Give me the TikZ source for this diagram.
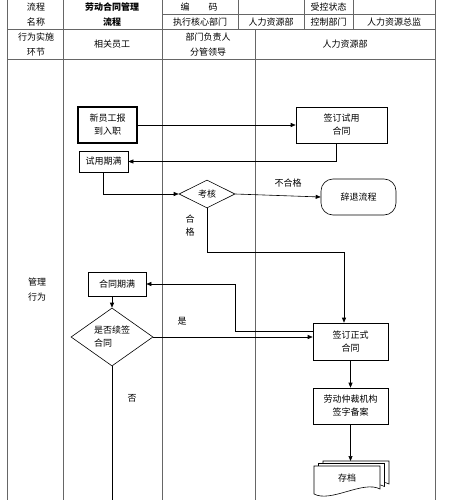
\documentclass[tikz,border=0pt]{standalone}
\usepackage{fontspec}
\setmainfont{Noto Sans CJK SC}
\usetikzlibrary{shapes.geometric, arrows.meta}

\newcommand\cnfont{\fontsize{9pt}{13pt}\selectfont}
\newcommand\headfont{\fontsize{9pt}{15pt}\selectfont}

\begin{document}
\begin{tikzpicture}[x=1pt, y=-1pt,
	every node/.style={font=\cnfont, inner sep=0pt},
	tabline/.style={draw=black!60, line width=0.8pt},
	head/.style={font=\headfont, align=center},
	box/.style={draw, line width=0.6pt, align=center},
	decision/.style={draw, diamond, line width=0.6pt, align=center},
	flow/.style={line width=0.6pt, -{Triangle[length=5pt, width=4pt]}},
	doc/.style={draw, fill=white, line width=0.6pt}]
\useasboundingbox (0,0) rectangle (449,500);

% table
\draw[tabline] (162,14.5) -- (435,14.5);
\draw[tabline] (7,29.5) -- (435,29.5);
\draw[tabline] (7,59.5) -- (435,59.5);
\draw[tabline] (7,0) -- (7,500);
\draw[tabline] (63,0) -- (63,500);
\draw[tabline] (162,0) -- (162,500);
\draw[tabline] (435,0) -- (435,500);
\draw[tabline] (238,0) -- (238,29.5);
\draw[tabline] (304,0) -- (304,29.5);
\draw[tabline] (353,0) -- (353,29.5);
\draw[tabline] (255,29.5) -- (255,500);

% header
\node[head] (procname) at (36,14.5) {流程\\名称};
\node[head, font=\headfont\bfseries] (proctitle) at (112,14.5) {劳动合同管理\\流程};
\node (code) at (199,7.5) {编\hspace{19pt}码};
\node (ctrlstate) at (328.5,7.5) {受控状态};
\node (execdept) at (200,22) {执行核心部门};
\node (execname) at (271,22) {人力资源部};
\node (ctrldept) at (328.5,22) {控制部门};
\node (ctrlname) at (394,22) {人力资源总监};
\node[head] (stage) at (36,44.5) {行为实施\\环节};
\node (staff) at (112,44.5) {相关员工};
\node[head] (leader) at (208,44.5) {部门负责人\\分管领导};
\node (hrdept) at (345,44.5) {人力资源部};
\node[head] (mgmt) at (37,289.5) {管理\\行为};

% flow
\node[box, line width=1.6pt, minimum width=59pt, minimum height=36pt] (newhire) at (107.5,125) {新员工报\\到入职};
\node[box, minimum width=91pt, minimum height=36pt] (trialsign) at (341.5,125) {签订试用\\合同};
\node[box, minimum width=49pt, minimum height=21pt] (trialend) at (103.5,161.5) {试用期满};
\node[decision, aspect=2, minimum width=56pt, minimum height=28pt] (assess) at (207,194) {考核};
\node[box, rounded corners=12pt, minimum width=75pt, minimum height=36pt] (dismiss) at (358.5,197) {辞退流程};
\node[box, minimum width=58pt, minimum height=24pt] (contractend) at (117,284) {合同期满};
\node[decision, aspect=1.4, align=left, minimum width=82pt, minimum height=58pt] (renew) at (112,337) {是否续签\\合同};
\node[box, minimum width=75pt, minimum height=37pt] (formal) at (350.5,341.5) {签订正式\\合同};
\node[box, minimum width=75pt, minimum height=36pt] (arbitration) at (350.5,406) {劳动仲裁机构\\签字备案};

\foreach \dx/\dy in {9/-5, 4.5/-2.5, 0/0}
	\draw[doc, shift={(\dx,\dy)}] (314,466) -- (380,466) -- (380,489)
		.. controls (363,480) and (331,503) .. (314,494) -- cycle;
\node (archive) at (347,478) {存档};
\coordinate (archtop) at (350.5,461);

\node (fail) at (288,183) {不合格};
\node[align=center] (pass) at (190,226) {合\\格};
\node (yes) at (182,321) {是};
\node (no) at (132,398) {否};

\draw[flow] (newhire.east) -- (trialsign.west);
\draw[flow] ([xshift=-5.5pt]trialsign.south) |- (trialend.east);
\draw[flow] (trialend.south) |- (assess.west);
\draw[flow] (assess.east) -- (dismiss.west);
\draw[flow] (assess.south) -- (assess.south |- 0,252) -| ([xshift=-6.5pt]formal.north);
\draw[flow] ([yshift=10pt]formal.west) -- ++(-77,0) |- (contractend.east);
\draw[flow] (renew.north |- contractend.south) -- (renew.north);
\draw[flow] (renew.east) -- (formal.west |- renew.east);
\draw[line width=0.6pt] (renew.south) -- (renew.south |- 0,500);
\draw[flow] (formal.south) -- (arbitration.north);
\draw[flow] (arbitration.south) -- (archtop);

\end{tikzpicture}
\end{document}
